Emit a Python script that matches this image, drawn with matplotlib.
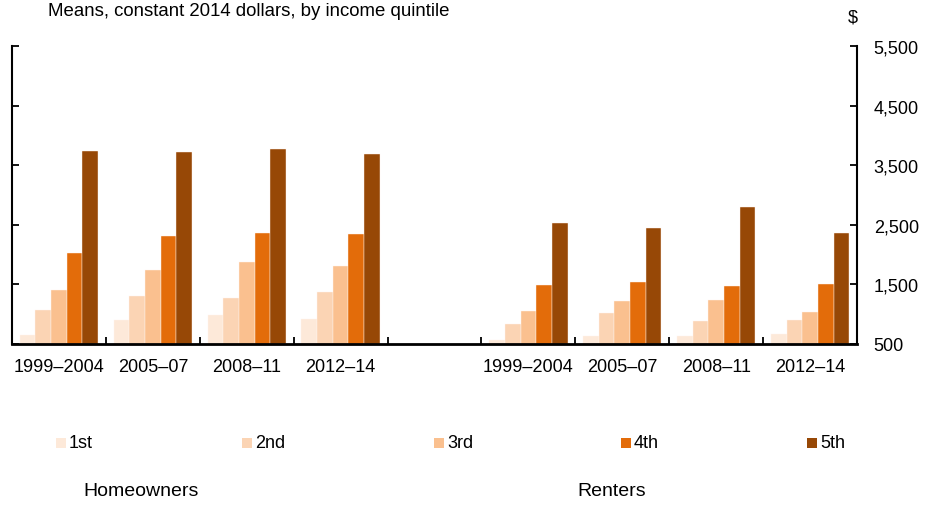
import matplotlib
matplotlib.use('Agg')
import matplotlib.pyplot as plt
from matplotlib.patches import Rectangle
import numpy as np

plt.rcParams['font.family'] = ['Liberation Sans', 'DejaVu Sans']

periods = ["1999\u20132004", "2005\u201307", "2008\u201311", "2012\u201314"]
quintiles = ["1st", "2nd", "3rd", "4th", "5th"]
colors = ["#FDE9D9", "#FBD4B4", "#FAC08F", "#E36C0A", "#974806"]

# mean values by quintile, one list per period
owners = [
    [651, 1066, 1414, 2019, 3734],
    [903, 1307, 1744, 2305, 3717],
    [987, 1280, 1878, 2361, 3772],
    [927, 1374, 1801, 2344, 3693],
]
renters = [
    [562, 836, 1055, 1498, 2529],
    [641, 1016, 1218, 1532, 2439],
    [629, 887, 1234, 1465, 2792],
    [663, 898, 1038, 1508, 2355],
]

yticks = [500, 1500, 2500, 3500, 4500, 5500]

# homeowners in slots 0-3, blank slot 4, renters in slots 5-8
slots = list(range(4)) + list(range(5, 9))
groups = owners + renters
labels = periods + periods

fig = plt.figure(figsize=(9.26, 5.06), dpi=100)
ax = fig.add_axes([12 / 926, 1 - 345 / 506, 845 / 926, 298 / 506])

w = 0.167
for q in range(5):
    vals = np.array([g[q] for g in groups])
    x = np.array(slots) + (q - 2) * w
    ax.bar(x, vals - 500, width=w, bottom=500, color=colors[q],
           edgecolor="#fff5ee", linewidth=0.3, zorder=2)

ax.set_xlim(-0.5, 8.5)
ax.set_ylim(500, 5500)

ax.set_xticks(np.arange(0.5, 8, 1))
ax.set_xticklabels([])
ax.set_xticks(slots, minor=True)
ax.set_xticklabels(labels, minor=True, fontsize=13)
ax.tick_params(axis="x", which="major", direction="in", length=5, width=1.3)
ax.tick_params(axis="x", which="minor", length=0, pad=10)

ax.set_yticks(yticks)
ax.set_yticklabels([f"{v:,}" for v in yticks], fontsize=13)
ax.yaxis.set_ticks_position("both")
ax.yaxis.set_label_position("right")
ax.tick_params(axis="y", direction="in", length=5, width=1.3,
               labelleft=False, labelright=True, pad=12)

ax.spines["top"].set_visible(False)
for s in ["left", "right"]:
    ax.spines[s].set_linewidth(1.5)
ax.spines["bottom"].set_linewidth(2)

fig.text(48 / 926, 1 - 12 / 506, "Means, constant 2014 dollars, by income quintile",
         fontsize=13.4, va="center", ha="left")
fig.text(848 / 926, 1 - 18 / 506, "$", fontsize=13, va="center", ha="left")

# legend row
leg_x = [56, 242, 434, 621, 807]
for xpos, name, c in zip(leg_x, quintiles, colors):
    fig.add_artist(Rectangle((xpos / 926, 1 - 449 / 506), 10 / 926, 10 / 506,
                             transform=fig.transFigure, facecolor=c, edgecolor="none"))
    fig.text((xpos + 13) / 926, 1 - 444 / 506, name, fontsize=13, va="center", ha="left")

fig.text(83 / 926, 1 - 492 / 506, "Homeowners", fontsize=14, va="center", ha="left")
fig.text(577 / 926, 1 - 492 / 506, "Renters", fontsize=14, va="center", ha="left")

fig.savefig("out.png", dpi=100)
